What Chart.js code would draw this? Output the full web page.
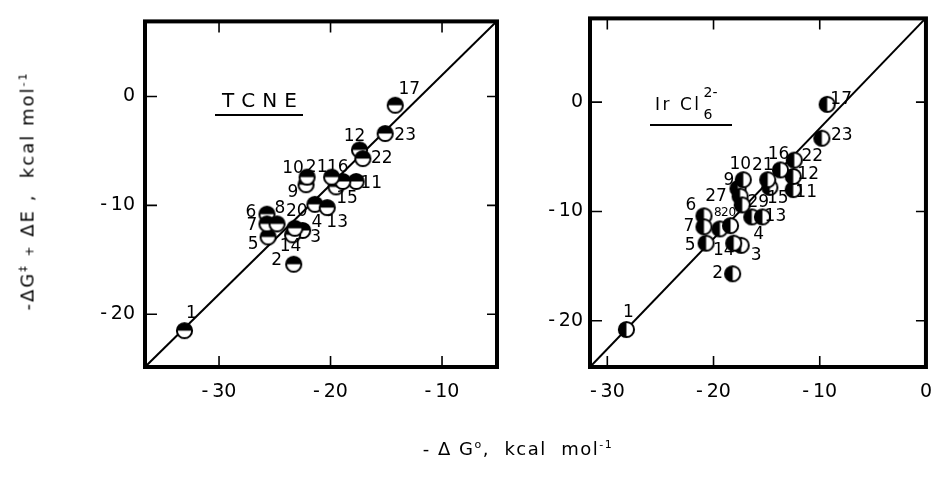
<!DOCTYPE html>
<html>
<head>
<meta charset="utf-8">
<script src="https://cdn.jsdelivr.net/npm/chart.js@4.4.0/dist/chart.umd.min.js"></script>
<style>
  body { margin: 0; background: #fff; }
  #wrap { position: relative; width: 946px; height: 485px; overflow: hidden; font-family: "DejaVu Sans", sans-serif; color: #000; }
  canvas { position: absolute; top: 0; }
  #tcne { left: 0; }
  #ircl { left: 520px; }
  .ytitle { position: absolute; left: 27px; top: 191px; transform: translate(-50%, -50%) rotate(-90deg);
            white-space: nowrap; font-size: 18px; letter-spacing: 2px; }
  .xtitle { position: absolute; left: 518px; top: 448px; transform: translate(-50%, -50%);
            white-space: nowrap; font-size: 18px; letter-spacing: 1.5px; }
  sup { font-size: 11px; }
  .small { font-size: 12px; }
</style>
</head>
<body>
<div id="wrap">
  <canvas id="tcne" width="520" height="485"></canvas>
  <canvas id="ircl" width="426" height="485"></canvas>
  <div class="ytitle">-ΔG<sup>‡</sup> <span class="small">+</span> ΔE ,&nbsp; kcal mol<sup>-1</sup></div>
  <div class="xtitle">- Δ G<sup>o</sup>,&nbsp; kcal&nbsp; mol<sup>-1</sup></div>
</div>
<script>
// TCNE panel
const tcneIds = ["1","2","3","4","5","6","7","8","9","10","11","12","13","14","15","16","17","20","21","22","23"];
const tcneX = [-33.1,-23.3,-22.5,-21.4,-25.6,-25.7,-25.7,-24.8,-22.2,-22.1,-17.7,-17.4,-20.3,-23.4,-19.5,-18.9,-14.2,-23.2,-19.9,-17.1,-15.1];
const tcneY = [-21.5,-15.4,-12.3,-9.9,-12.9,-10.8,-11.7,-11.7,-8.1,-7.4,-7.8,-4.9,-10.2,-12.7,-8.3,-7.8,-0.8,-12.1,-7.4,-5.7,-3.4];
const tcneLineX = [-36.6, -5.1];
const tcneLineY = [-24.8, 6.9];
const tcneXRange = [-36.64, -5.07];
const tcneYRange = [-24.84, 6.9];

// IrCl6 2- panel
const irclIds = ["1","2","3","4","5","6","7","8","9","10","11","12","13","14","15","16","17","20","21","22","23","27","29"];
const irclX = [-28.2,-18.2,-17.4,-16.4,-20.7,-20.9,-20.9,-19.4,-17.7,-17.2,-12.5,-12.5,-15.4,-18.1,-14.7,-13.7,-9.3,-18.4,-14.9,-12.4,-9.8,-17.5,-17.3];
const irclY = [-20.8,-15.7,-13.1,-10.5,-12.9,-10.4,-11.4,-11.6,-7.9,-7.1,-8.0,-6.8,-10.5,-12.9,-7.8,-6.2,-0.2,-11.3,-7.1,-5.3,-3.3,-8.6,-9.4];
const irclLineX = [-31.6, 0];
const irclLineY = [-24.2, 7.7];
const irclXRange = [-31.63, 0];
const irclYRange = [-24.23, 7.66];

// label placement (pixels from the point): dx, dy, font size
const tcneLabelPos = [[7,-17],[-17,-4],[13,7],[2,18],[-15,8],[-16,-2],[-15,2],[3,-15],[-13,8],[-14,-9],[15,2],[-5,-13],[10,15],[-2,12],[11,12],[-5,-14],[14,-16],[2,-17],[-15,-10],[19,0],[20,2]];
const irclLabelPos = [[2,-17],[-15,0],[15,10],[7,18],[-16,2],[-13,-10],[-15,0],[-2,-16,12],[-9,-8],[-3,-15],[13,3],[15,-2],[13,0],[-10,7],[8,11],[-2,-15],[14,-5],[-2,-13,12],[-5,-14],[18,-3],[20,-3],[-24,0],[16,-2]];

function halfDisc(side) {
  const c = document.createElement("canvas");
  c.width = 19; c.height = 19;
  const g = c.getContext("2d");
  g.beginPath(); g.arc(9.5, 9.5, 7.6, 0, Math.PI * 2); g.fillStyle = "#fff"; g.fill();
  g.beginPath();
  if (side === "top") g.arc(9.5, 9.5, 7.6, Math.PI, Math.PI * 2);
  else g.arc(9.5, 9.5, 7.6, Math.PI / 2, Math.PI * 1.5);
  g.closePath(); g.fillStyle = "#000"; g.fill();
  g.beginPath(); g.arc(9.5, 9.5, 7.6, 0, Math.PI * 2);
  g.lineWidth = 2; g.strokeStyle = "#000"; g.stroke();
  return c;
}

function tickLabel(v) {
  if (Math.abs(v % 10) > 1e-9) return null;
  return v < 0 ? "-\u2009" + Math.abs(v) : String(v);
}

function spaced(ctx, text, x, y, gap) {
  for (const ch of text) {
    ctx.fillText(ch, x, y);
    x += ctx.measureText(ch).width + gap;
  }
  return x;
}

function panelPlugin(ids, labelPos, drawTitle) {
  return {
    id: "panel",
    afterDatasetsDraw(chart) {
      const ctx = chart.ctx;
      const meta = chart.getDatasetMeta(0);
      ctx.save();
      ctx.fillStyle = "#000";
      ctx.textAlign = "center";
      ctx.textBaseline = "middle";
      meta.data.forEach((pt, i) => {
        const p = labelPos[i];
        ctx.font = (p[2] || 17) + 'px "DejaVu Sans"';
        ctx.fillText(ids[i], pt.x + p[0], pt.y + p[1]);
      });
      ctx.restore();
    },
    afterDraw(chart) {
      const ctx = chart.ctx;
      const a = chart.chartArea;
      const xs = chart.scales.x, ys = chart.scales.y;
      ctx.save();
      ctx.strokeStyle = "#000";
      ctx.lineWidth = 1.6;
      ctx.beginPath();
      xs.ticks.forEach(t => {
        if (Math.abs(t.value % 5) > 1e-9) return;
        const px = xs.getPixelForValue(t.value);
        const major = Math.abs(t.value % 10) < 1e-9;
        if (px <= a.left + 3 || px >= a.right - 3) return;
        ctx.moveTo(px, a.bottom); ctx.lineTo(px, a.bottom - (major ? 11 : 6));
        if (major) { ctx.moveTo(px, a.top); ctx.lineTo(px, a.top + 11); }
      });
      ys.ticks.forEach(t => {
        if (Math.abs(t.value % 5) > 1e-9) return;
        const py = ys.getPixelForValue(t.value);
        const major = Math.abs(t.value % 10) < 1e-9;
        if (py <= a.top + 3 || py >= a.bottom - 3) return;
        ctx.moveTo(a.left, py); ctx.lineTo(a.left + (major ? 12 : 6), py);
        ctx.moveTo(a.right, py); ctx.lineTo(a.right - 10, py);
      });
      ctx.stroke();
      ctx.lineWidth = 4;
      ctx.strokeRect(a.left, a.top, a.right - a.left, a.bottom - a.top);
      ctx.fillStyle = "#000";
      drawTitle(ctx);
      ctx.restore();
    }
  };
}

function makePanel(canvasId, xs, ys, lineX, lineY, xRange, yRange, marker, plugin, yWidth, padRight, yPad) {
  return new Chart(document.getElementById(canvasId), {
    type: "scatter",
    data: {
      datasets: [
        {
          data: xs.map((x, i) => ({ x: x, y: ys[i] })),
          pointStyle: marker,
          pointRadius: 8,
          pointHoverRadius: 8
        },
        {
          type: "line",
          data: lineX.map((x, i) => ({ x: x, y: lineY[i] })),
          borderColor: "#000",
          borderWidth: 2,
          pointRadius: 0,
          fill: false
        }
      ]
    },
    options: {
      responsive: false,
      animation: false,
      devicePixelRatio: 1,
      layout: { padding: { left: 0, right: padRight, top: 13, bottom: 0 } },
      plugins: { legend: { display: false }, tooltip: { enabled: false } },
      scales: {
        x: {
          type: "linear", min: xRange[0], max: xRange[1],
          grid: { display: false, drawTicks: false },
          border: { display: false },
          afterFit: s => { s.height = 118; },
          ticks: { stepSize: 5, includeBounds: false, autoSkip: false, maxRotation: 0, padding: 14, color: "#000",
                   font: { family: "DejaVu Sans", size: 19 }, callback: tickLabel }
        },
        y: {
          type: "linear", min: yRange[0], max: yRange[1],
          grid: { display: false, drawTicks: false },
          border: { display: false },
          afterFit: s => { s.width = yWidth; },
          ticks: { stepSize: 5, includeBounds: false, autoSkip: false, padding: yPad, color: "#000",
                   font: { family: "DejaVu Sans", size: 19 }, callback: tickLabel }
        }
      }
    },
    plugins: [plugin]
  });
}

makePanel("tcne", tcneX, tcneY, tcneLineX, tcneLineY, tcneXRange, tcneYRange, halfDisc("top"),
  panelPlugin(tcneIds, tcneLabelPos, ctx => {
    ctx.font = '20px "DejaVu Sans"';
    ctx.textBaseline = "alphabetic";
    ctx.textAlign = "left";
    spaced(ctx, "TCNE", 222, 107, 7);
    ctx.lineWidth = 2;
    ctx.beginPath(); ctx.moveTo(215, 115); ctx.lineTo(303, 115); ctx.stroke();
  }), 145, 23, 10);

makePanel("ircl", irclX, irclY, irclLineX, irclLineY, irclXRange, irclYRange, halfDisc("left"),
  panelPlugin(irclIds, irclLabelPos, ctx => {
    ctx.textBaseline = "alphabetic";
    ctx.textAlign = "left";
    ctx.font = '17px "DejaVu Sans"';
    const end = spaced(ctx, "Ir Cl", 135, 110, 2.5);
    ctx.font = '14px "DejaVu Sans"';
    ctx.fillText("2-", end + 2, 97);
    ctx.fillText("6", end + 2, 119);
    ctx.lineWidth = 2;
    ctx.beginPath(); ctx.moveTo(130, 125); ctx.lineTo(212, 125); ctx.stroke();
  }), 70, 6, 7);
</script>
</body>
</html>
